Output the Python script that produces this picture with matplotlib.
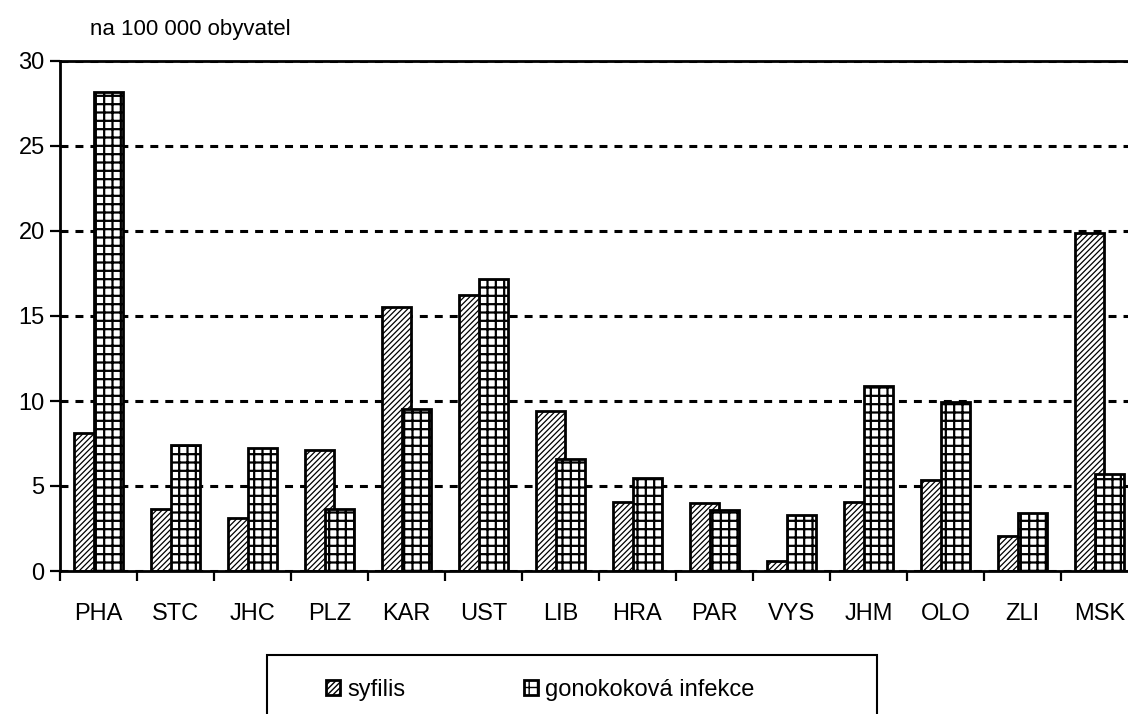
import numpy as np
import matplotlib
matplotlib.use("Agg")
import matplotlib.pyplot as plt
from matplotlib.patches import Rectangle

# kraje a hodnoty na 100 000 obyvatel
kraje = ["PHA", "STC", "JHC", "PLZ", "KAR", "UST", "LIB",
         "HRA", "PAR", "VYS", "JHM", "OLO", "ZLI", "MSK"]
syfilis = [8.14, 3.62, 3.09, 7.13, 15.5, 16.24, 9.4,
           4.04, 3.98, 0.6, 4.04, 5.37, 2.08, 19.86]
gono = [28.15, 7.44, 7.23, 3.66, 9.55, 17.2, 6.6,
        5.5, 3.6, 3.3, 10.9, 9.96, 3.4, 5.73]
yticks = [0, 5, 10, 15, 20, 25, 30]

plt.rcParams['font.family'] = ['Liberation Sans', 'DejaVu Sans']
plt.rcParams['hatch.linewidth'] = 1.3

fig = plt.figure(figsize=(11.28, 7.14), dpi=100)
ax = fig.add_axes([60/1128, 143/714, 1078/1128, 510/714])

x = np.arange(len(kraje))
w = 0.377
off = 0.13
b1 = ax.bar(x - off, syfilis, w, color="white", edgecolor="black", hatch="//////",
            linewidth=2, label="syfilis", zorder=2)
b2 = ax.bar(x + off, gono, w, color="white", edgecolor="black", hatch="++",
            linewidth=2, label="gonokoková infekce", zorder=3)
# tenci srafy u syfilis, silnejsi mrizka u gono
for p in b1:
    if hasattr(p, "set_hatch_linewidth"):
        p.set_hatch_linewidth(0.9)
for p in b2:
    if hasattr(p, "set_hatch_linewidth"):
        p.set_hatch_linewidth(1.6)

ax.set_xlim(-0.5, len(kraje) - 0.5)
ax.set_ylim(0, 30)
ax.set_yticks(yticks)
ax.set_xticks(x)
ax.set_xticklabels(kraje)
ax.set_xticks(np.arange(len(kraje) + 1) - 0.5, minor=True)
ax.tick_params(axis="x", which="major", length=0, pad=23, labelsize=17)
ax.tick_params(axis="x", which="minor", length=7, width=1.6, direction="out")
ax.tick_params(axis="y", length=7, width=1.6, direction="out", pad=4, labelsize=17)

ax.set_axisbelow(True)
ax.yaxis.grid(True, color="black", linewidth=2.2, linestyle=(0, (2.6, 2.3)))
for s in ["left", "bottom", "top"]:
    ax.spines[s].set_linewidth(2)
ax.spines["right"].set_visible(False)

fig.text(90/1128, 1 - 30/714, "na 100 000 obyvatel", fontsize=16, va="center", ha="left")

# legenda dole
leg = fig.legend(loc="center left", bbox_to_anchor=(305/1128, 1 - 690/714), ncol=2,
                 frameon=False, fontsize=17, handlelength=0.6, handleheight=0.6,
                 handletextpad=0.3, columnspacing=5.0)
for h in leg.legend_handles:
    if hasattr(h, "set_hatch_linewidth"):
        h.set_hatch_linewidth(1.0)
fig.add_artist(Rectangle((267/1128, -0.05), 610/1128, 59/714 + 0.05,
                         transform=fig.transFigure, fill=False,
                         edgecolor="black", linewidth=1.5))

fig.savefig("out.png", dpi=100)
